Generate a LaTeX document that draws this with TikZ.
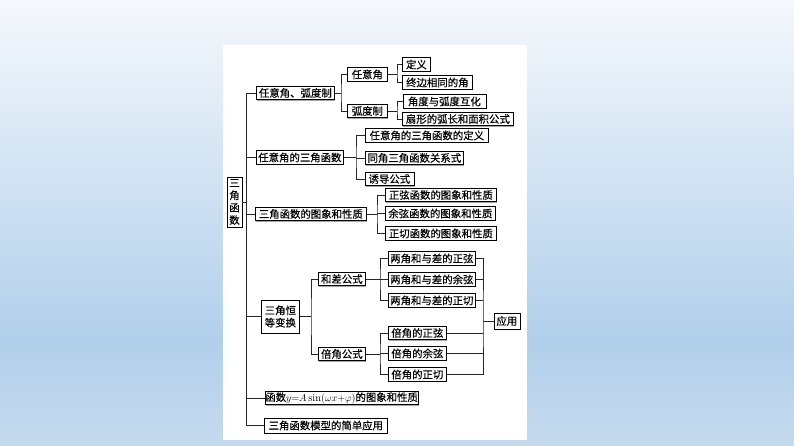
\documentclass[tikz,border=0pt]{standalone}
\usepackage{fontspec}
\newfontfamily\cjk[FakeBold=0.4]{Noto Sans CJK SC}
\usetikzlibrary{shadows}
\definecolor{bgtop}{RGB}{245,248,252}
\definecolor{bgmid}{RGB}{177,207,235}
\definecolor{bgbot}{RGB}{198,218,238}
\begin{document}
\begin{tikzpicture}[x=1pt,y=-1pt,
  box/.style={draw=black, line width=0.7pt, fill=white, inner sep=0pt, anchor=west,
    minimum height=13.5pt, align=center,
    font=\cjk\fontsize{10.4}{12.4}\selectfont,
    drop shadow={shadow xshift=0.9pt, shadow yshift=-0.9pt, fill=black!35, opacity=1}},
  link/.style={draw=black!85, line width=0.7pt}]
\useasboundingbox (0,0) rectangle (794,446);
% background
\shade[top color=bgtop, bottom color=bgmid] (0,0) rectangle (794,340);
\shade[top color=bgmid, bottom color=bgbot] (0,340) rectangle (794,446);
\fill[white] (223,45) rectangle (527,440);

% root
\node[box, minimum width=15pt, minimum height=50pt, anchor=center] (root) at (234.5,202) {三\\角\\函\\数};

% level 1
\node[box, minimum width=78pt] (a1) at (256,93) {任意角、弧度制};
\node[box, minimum width=87pt] (a2) at (256,157.5) {任意角的三角函数};
\node[box, minimum width=111pt] (a3) at (255,214) {三角函数的图象和性质};
\node[box, minimum width=38pt, minimum height=33pt] (a4) at (261,316.5) {三角恒\\等变换};
\node[box, minimum width=152pt] (a5) at (265,398) {函数$y{=}A\sin(\omega x{+}\varphi)$的图象和性质};
\node[box, minimum width=123pt, minimum height=15pt] (a6) at (264,425.5) {三角函数模型的简单应用};

% level 2
\node[box, minimum width=40pt] (b1) at (347,74.5) {任意角};
\node[box, minimum width=40pt] (b2) at (347,111) {弧度制};
\node[box, minimum width=123pt] (c1) at (365,135.5) {任意角的三角函数的定义};
\node[box, minimum width=98pt] (c2) at (365,158) {同角三角函数关系式};
\node[box, minimum width=49pt] (c3) at (364.5,179) {诱导公式};
\node[box, minimum width=111pt] (d1) at (385,195) {正弦函数的图象和性质};
\node[box, minimum width=110pt] (d2) at (385,213.5) {余弦函数的图象和性质};
\node[box, minimum width=111pt] (d3) at (385,233.5) {正切函数的图象和性质};
\node[box, minimum width=47pt] (e1) at (318,279) {和差公式};
\node[box, minimum width=47pt] (e2) at (318,354) {倍角公式};

% level 3
\node[box, minimum width=28pt] (f1) at (402,64.5) {定义};
\node[box, minimum width=70pt] (f2) at (402,82.5) {终边相同的角};
\node[box, minimum width=83pt] (g1) at (402.5,101.5) {角度与弧度互化};
\node[box, minimum width=111pt] (g2) at (402,119) {扇形的弧长和面积公式};
\node[box, minimum width=87pt] (h1) at (388,258.5) {两角和与差的正弦};
\node[box, minimum width=87pt] (h2) at (388,279.5) {两角和与差的余弦};
\node[box, minimum width=87pt] (h3) at (388,300.5) {两角和与差的正切};
\node[box, minimum width=58pt] (i1) at (388,333) {倍角的正弦};
\node[box, minimum width=58pt] (i2) at (388,353.5) {倍角的余弦};
\node[box, minimum width=58pt] (i3) at (388,374.5) {倍角的正切};
\node[box, minimum width=26pt, minimum height=16pt] (app) at (493.5,321) {应用};

% bus coordinates
\coordinate (t1) at (246,93);
\coordinate (ta) at (341,93);
\coordinate (tb1) at (397,74.5);
\coordinate (tb2) at (397,111);
\coordinate (tc) at (356,157.5);
\coordinate (td) at (377,214);
\coordinate (te) at (311,316.5);
\coordinate (te1) at (380,279);
\coordinate (te2) at (380,354);
\coordinate (tr) at (483,321);

% connectors
\path[link] (a1.west) -| (t1) (t1) |- (a6.west);
\path[link] (root.east) -- (root.east -| t1);
\path[link] (a2.west -| t1) -- (a2.west);
\path[link] (a3.west -| t1) -- (a3.west);
\path[link] (a4.west -| t1) -- (a4.west);
\path[link] (a5.west -| t1) -- (a5.west);

\path[link] (a1.east) -- (ta);
\path[link] (b1.west) -| (ta) |- (b2.west);
\path[link] (b1.east) -- (tb1);
\path[link] (f1.west) -| (tb1) |- (f2.west);
\path[link] (b2.east) -- (tb2);
\path[link] (g1.west) -| (tb2) |- (g2.west);

\path[link] (a2.east) -- (tc);
\path[link] (c1.west) -| (tc) |- (c3.west);
\path[link] (c2.west -| tc) -- (c2.west);

\path[link] (a3.east) -- (td);
\path[link] (d1.west) -| (td) |- (d3.west);
\path[link] (d2.west -| td) -- (d2.west);

\path[link] (a4.east) -- (te);
\path[link] (e1.west) -| (te) |- (e2.west);
\path[link] (e1.east) -- (te1);
\path[link] (h1.west) -| (te1) |- (h3.west);
\path[link] (h2.west -| te1) -- (h2.west);
\path[link] (e2.east) -- (te2);
\path[link] (i1.west) -| (te2) |- (i3.west);
\path[link] (i2.west -| te2) -- (i2.west);

\path[link] (h1.east) -| (tr) |- (i3.east);
\path[link] (h2.east) -- (h2.east -| tr);
\path[link] (h3.east) -- (h3.east -| tr);
\path[link] (i1.east) -- (i1.east -| tr);
\path[link] (i2.east) -- (i2.east -| tr);
\path[link] (tr) -- (app.west);
\end{tikzpicture}
\end{document}
